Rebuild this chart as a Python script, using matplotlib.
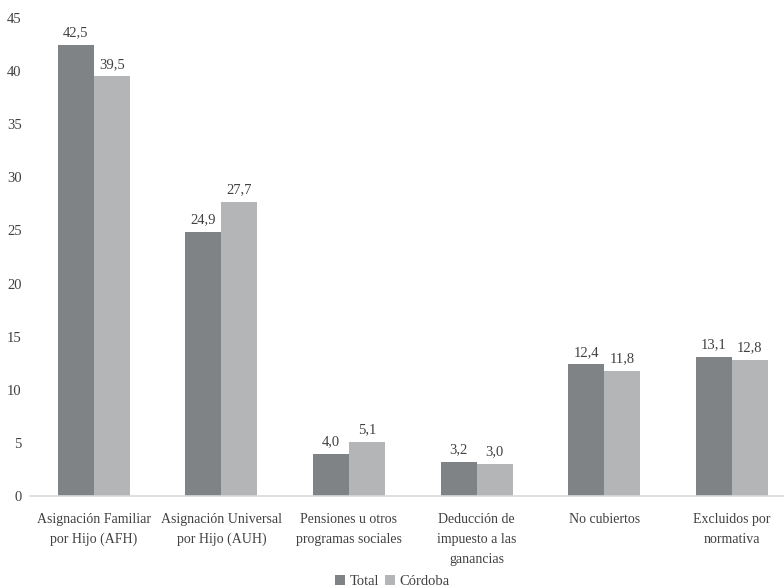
import numpy as np
import matplotlib
matplotlib.use("Agg")
import matplotlib.pyplot as plt

# Data
categories = [
    "Asignación Familiar\npor Hijo (AFH)",
    "Asignación Universal\npor Hijo (AUH)",
    "Pensiones u otros\nprogramas sociales",
    "Deducción de\nimpuesto a las\nganancias",
    "No cubiertos",
    "Excluidos por\nnormativa",
]
total = [42.5, 24.9, 4.0, 3.2, 12.4, 13.1]
cordoba = [39.5, 27.7, 5.1, 3.0, 11.8, 12.8]
series_names = ["Total", "Córdoba"]
y_ticks = [0, 5, 10, 15, 20, 25, 30, 35, 40, 45]

plt.rcParams["font.family"] = ["Liberation Serif", "DejaVu Serif"]

fig = plt.figure(figsize=(7.84, 5.88), dpi=100)
ax = fig.add_axes([30 / 784, 92 / 588, 754 / 784, 478 / 588])

x = np.arange(len(categories))
w = 0.282
dark = "#808385"
light = "#b3b5b6"
b1 = ax.bar(x - w / 2, total, w, color=dark, label=series_names[0])
b2 = ax.bar(x + w / 2, cordoba, w, color=light, label=series_names[1])

def fmt(v):
    return f"{v:.1f}".replace(".", ",")

for bars, vals in [(b1, total), (b2, cordoba)]:
    for rect, v in zip(bars, vals):
        ax.annotate(fmt(v), (rect.get_x() + rect.get_width() / 2, v),
                    xytext=(0, 4), textcoords="offset points",
                    ha="center", va="bottom", fontsize=10.5, color="#404040")

ax.set_xlim(-0.5, 5.41)
ax.set_ylim(0, 45)
ax.set_yticks(y_ticks)
ax.set_xticks(x)
ax.set_xticklabels(categories, fontsize=10, color="#404040", linespacing=1.7)
ax.tick_params(axis="y", length=0, labelsize=10.5, labelcolor="#404040", pad=6)
ax.tick_params(axis="x", length=0, pad=12)

for s in ["top", "right", "left"]:
    ax.spines[s].set_visible(False)
ax.spines["bottom"].set_color("#d9d9d9")
ax.spines["bottom"].set_linewidth(1.2)

fig.legend(loc="lower center", bbox_to_anchor=(0.5, -0.022), ncol=2,
           frameon=False, fontsize=10.5, handlelength=0.7, handleheight=0.7,
           handletextpad=0.3, columnspacing=0.4, labelcolor="#404040")

fig.savefig("out.png", dpi=100)
